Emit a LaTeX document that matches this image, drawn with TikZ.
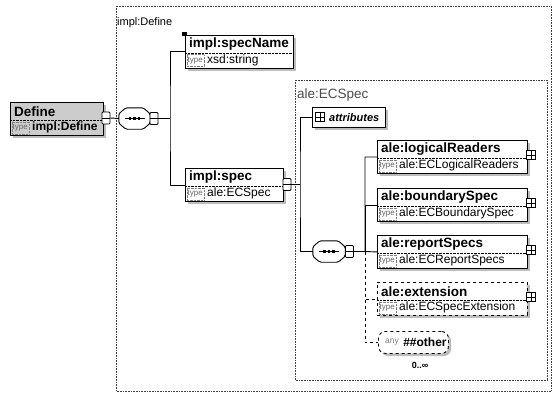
\documentclass[tikz,border=0pt]{standalone}
\usepackage{fontspec}
\setmainfont{Liberation Sans}
\definecolor{shad}{gray}{0.74}
\tikzset{
 box/.style={draw, line width=0.9pt, fill=white, inner sep=0pt, anchor=north west},
 ttl/.style={font=\bfseries\fontsize{13.5}{14}\selectfont, inner sep=0pt, anchor=west},
 tval/.style={font=\fontsize{12}{13}\selectfont, inner sep=0pt, anchor=west},
 tlbl/.style={draw=gray, densely dotted, font=\fontsize{8}{8}\selectfont, text=gray!80!black, inner sep=1pt, anchor=north west, minimum height=12pt},
 conn/.style={draw, line width=0.8pt, fill=white, minimum width=8pt, minimum height=12pt, inner sep=0pt, rounded corners=1pt},
 plusicon/.style={draw, line width=0.7pt, fill=white, minimum size=9pt, inner sep=0pt},
 wire/.style={line width=0.9pt},
 frame/.style={draw=black!75, densely dotted, line width=0.6pt},
 lbl/.style={inner sep=0pt, anchor=west},
}
\newcommand\xelem[7]{%
 \fill[shad] (#2+3,#3+3) rectangle ++(#4,33);
 \node[box, #7, minimum width=#4pt, minimum height=33pt] (#1) at (#2,#3) {};
 \draw[densely dotted] (#2,#3+18) -- ++(#4,0);
 \node[tlbl] (#1-l) at (#2+1.5,#3+19.5) {type};
 \node[ttl] (#1-n) at (#2+4,#3+9.5) {#5};
 \node[tval] (#1-v) at ([xshift=3pt]#1-l.east) {#6};
}
\newcommand\xconn[2]{%
 \node[conn] (#1) at (#2) {};
 \draw[line width=0.6pt] (#1.west) -- (#1.east);
}
\newcommand\xplus[2]{%
 \node[plusicon] (#1) at (#2) {};
 \draw[line width=0.6pt] (#1.north) -- (#1.south) (#1.west) -- (#1.east);
}
\newcommand\octpath[2]{% node name, extra style
 \path[#2] ([xshift=7pt]#1.north west) -- ([xshift=-7pt]#1.north east) -- ([yshift=-6pt]#1.north east)
   -- ([yshift=6pt]#1.south east) -- ([xshift=-7pt]#1.south east) -- ([xshift=7pt]#1.south west)
   -- ([yshift=6pt]#1.south west) -- ([yshift=-6pt]#1.north west) -- cycle;
}
\newcommand\xcomp[4]{% name, cx, cy, width
 \node[inner sep=0pt, minimum width=#4pt, minimum height=21pt] (#1) at (#2,#3) {};
 \begin{scope}[shift={(3,3)}]\octpath{#1}{fill=shad}\end{scope}
 \octpath{#1}{draw, fill=white, line width=0.9pt, rounded corners=1.5pt}
 \draw[line width=0.8pt] ([xshift=-10pt]#1.center) -- ([xshift=10pt]#1.center);
 \foreach \d in {-4.5,0,4.5} \fill ([shift={(\d-1.4,-1.4)}]#1.center) rectangle ++(2.8,2.8);
}
\begin{document}
\begin{tikzpicture}[x=1pt,y=-1pt]
\useasboundingbox (0,0) rectangle (553,393);
\fill[white] (0,0) rectangle (553,393);

% outer frame
\draw[frame] (116,6) rectangle (551,391);
\node[lbl, font=\fontsize{11}{12}\selectfont] (deflbl) at (117,23) {impl:Define};

% Define element
\xelem{def}{10}{102}{93}{Define}{\textbf{impl:Define}}{fill=gray!40}
\xconn{dcn}{106,118}

% first sequence
\xcomp{c1}{134.5}{118.5}{31}
\xconn{c1c}{154,118.5}

% impl:specName and impl:spec
\xelem{sn}{185}{35}{108}{impl:specName}{xsd:string}{}
\fill (182,32) rectangle ++(4.5,4.5);
\xelem{sp}{185}{168}{98}{impl:spec}{ale:ECSpec}{}
\xconn{spc}{287,184.5}

\coordinate (j1) at (170,118.5);
\draw[wire] (dcn.east) -- (c1.west);
\draw[wire] (c1c.east) -- (j1);
\draw[wire] (sn.west) -| (j1) |- (sp.west);

% ale:ECSpec frame
\draw[frame] (295,80) rectangle (547,380);
\node[lbl, font=\fontsize{13.5}{14}\selectfont, text=black!70] (eclbl) at (297,95) {ale:ECSpec};

% attributes
\fill[shad] (315,110) rectangle ++(73,20);
\node[box, minimum width=73pt, minimum height=20pt] (att) at (312,107) {};
\xplus{attp}{320,117}
\node[font=\bfseries\itshape\fontsize{11}{12}\selectfont, inner sep=0pt, anchor=west] (attt) at (329,117.5) {attributes};

% second sequence
\xcomp{c2}{329}{251.5}{32}
\xconn{c2c}{349.5,251.5}

\coordinate (j2) at (300,184.5);
\draw[wire] (spc.east) -- (j2);
\draw[wire] (att.west) -| (j2) |- (c2.west);

% children
\xelem{lr}{377}{140}{150}{ale:logicalReaders}{ale:ECLogicalReaders}{}
\xelem{bs}{377}{188}{150}{ale:boundarySpec}{ale:ECBoundarySpec}{}
\xelem{rs}{377}{235}{150}{ale:reportSpecs}{ale:ECReportSpecs}{}
\xelem{ex}{377}{282}{150}{ale:extension}{ale:ECSpecExtension}{dashed}
\xplus{lrp}{531,155}
\xplus{bsp}{531,203}
\xplus{rsp}{531,250}
\xplus{exp}{531,297}

% any ##other
\fill[shad, rounded corners=7pt] (381,334) rectangle ++(70,22);
\node[box, dashed, rounded corners=7pt, minimum width=70pt, minimum height=22pt] (oth) at (378,331) {};
\node[inner sep=0pt, anchor=west, font=\fontsize{8.5}{9}\selectfont, text=gray] (othany) at (385,342) {any};
\node[inner sep=0pt, anchor=west, font=\bfseries\fontsize{12}{13}\selectfont] (othn) at ([xshift=4pt]othany.east) {\#\#other};
\node[inner sep=0pt, font=\bfseries\fontsize{9}{10}\selectfont] (occ) at (420,365) {0..∞};

\coordinate (j3) at (365,251.5);
\draw[wire] (c2c.east) -- (j3);
\draw[wire] (lr.west) -| (j3) -- (rs.west);
\draw[wire] (bs.west) -| (j3);
\draw[wire, dashed] (j3) |- (ex.west);
\draw[wire, dashed] (j3) |- (oth.west);
\end{tikzpicture}
\end{document}
